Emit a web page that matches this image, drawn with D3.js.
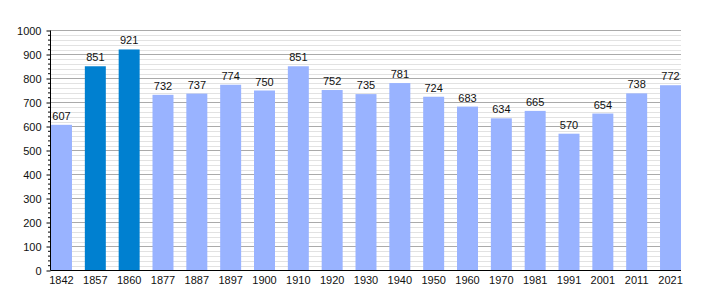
<!DOCTYPE html>
<html><head><meta charset="utf-8">
<script src="https://cdn.jsdelivr.net/npm/d3@7"></script>
<style>body{margin:0;background:#fff}svg{display:block}text{font-family:"Liberation Sans",Arial,sans-serif}</style>
</head><body>
<script>
const years = ["1842","1857","1860","1877","1887","1897","1900","1910","1920","1930","1940","1950","1960","1970","1981","1991","2001","2011","2021"];
const population = [607,851,921,732,737,774,750,851,752,735,781,724,683,634,665,570,654,738,772];
const highlighted = ["1857","1860"];
const yTicks = [0,100,200,300,400,500,600,700,800,900,1000];

const W=710,H=300, L=50.5, R=681, T=30.5, B=270.5;
const svg=d3.select("body").append("svg").attr("width",W).attr("height",H);
const x=d3.scaleBand().domain(years).range([L+0.5,R]).paddingInner(0.38).paddingOuter(0);
const y=d3.scaleLinear().domain([0,1000]).range([B,T]);

const minor=d3.range(0,1001,20).filter(v=>v%100!==0);
svg.append("g").selectAll("line").data(minor).join("line")
  .attr("x1",L).attr("x2",R).attr("y1",d=>Math.round(y(d))+0.5).attr("y2",d=>Math.round(y(d))+0.5)
  .attr("stroke","#e2e2e2").attr("stroke-width",1);
svg.append("g").selectAll("line").data(yTicks.slice(1)).join("line")
  .attr("x1",L).attr("x2",R).attr("y1",d=>Math.round(y(d)-0.5)+0.5).attr("y2",d=>Math.round(y(d)-0.5)+0.5)
  .attr("stroke","#aaaaaa").attr("stroke-width",1);

svg.append("g").selectAll("rect").data(years).join("rect")
  .attr("x",d=>x(d)).attr("width",x.bandwidth())
  .attr("y",(d,i)=>y(population[i])).attr("height",(d,i)=>B-y(population[i]))
  .attr("fill",d=>highlighted.includes(d)?"#0080d0":"#99b3ff");

svg.append("g").selectAll("text").data(years).join("text")
  .attr("x",d=>x(d)+x.bandwidth()/2).attr("y",(d,i)=>y(population[i])-5)
  .attr("text-anchor","middle").attr("font-size",11).attr("fill","#111")
  .text((d,i)=>population[i]);

// y axis
const yAxis=d3.axisLeft(y).tickValues(yTicks).tickSize(4).tickPadding(5).tickFormat(d3.format("d"));
const gy=svg.append("g").attr("transform",`translate(${L},0)`).call(yAxis);
gy.select(".domain").attr("d",`M0,${T}V${B}`).attr("stroke","#000");
gy.selectAll(".tick line").attr("stroke","#000");
gy.selectAll(".tick text").attr("font-size",11).attr("fill","#111").attr("font-family","Liberation Sans, Arial, sans-serif");
gy.append("g").selectAll("line").data(minor).join("line")
  .attr("x1",-2.5).attr("x2",0).attr("y1",d=>y(d)).attr("y2",d=>y(d)).attr("stroke","#000");

// x axis
const xAxis=d3.axisBottom(x).tickSize(0).tickPadding(6);
const gx=svg.append("g").attr("transform",`translate(0,${B})`).call(xAxis);
gx.select(".domain").attr("d",`M${L},0H${R}`).attr("stroke","#000");
gx.selectAll(".tick text").attr("font-size",11).attr("fill","#111").attr("font-family","Liberation Sans, Arial, sans-serif");
</script>
</body></html>
